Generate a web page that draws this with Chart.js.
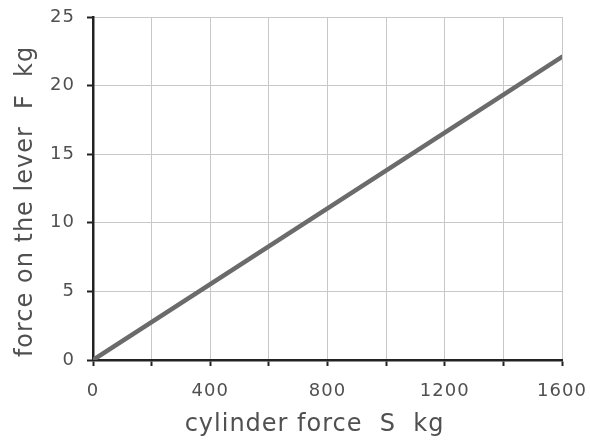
<!DOCTYPE html>
<html>
<head>
<meta charset="utf-8">
<script src="https://cdn.jsdelivr.net/npm/chart.js@4.4.1/dist/chart.umd.min.js"></script>
<style>
  html, body { margin: 0; padding: 0; background: #fff; }
  #wrap { width: 590px; height: 443px; }
</style>
</head>
<body>
<div id="wrap"><canvas id="chart" width="590" height="443"></canvas></div>
<script>
// cylinder force S (kg) vs force on the lever F (kg)
const cylinderForce = [0, 1600];
const leverForce = [0, 22.1];
const xLabels = [0, 400, 800, 1200, 1600];
const yLabels = [0, 5, 10, 15, 20, 25];

const points = cylinderForce.map((s, i) => ({ x: s, y: leverForce[i] }));

const ctx = document.getElementById('chart').getContext('2d');

// the original lettering is a wide face, so space the letters out a little
const wideText = {
    id: 'wideText',
    beforeLayout: (chart) => { chart.ctx.letterSpacing = '1px'; },
    beforeDraw: (chart) => { chart.ctx.letterSpacing = '1px'; }
};

new Chart(ctx, {
    type: 'scatter',
    data: {
        datasets: [{
            data: points,
            showLine: true,
            borderColor: '#6b6b6b',
            borderWidth: 4.5,
            borderCapStyle: 'round',
            pointRadius: 0,
            pointHoverRadius: 0
        }]
    },
    plugins: [wideText],
    options: {
        responsive: false,
        animation: false,
        layout: { padding: { top: 17, right: 28, left: 0, bottom: 0 } },
        plugins: {
            legend: { display: false },
            tooltip: { enabled: false }
        },
        scales: {
            x: {
                type: 'linear',
                min: 0,
                max: 1600,
                afterFit: (scale) => {
                    scale.height = 83;
                    scale.paddingLeft = 0;
                    scale.paddingRight = 0;
                },
                ticks: {
                    stepSize: 200,
                    color: '#505050',
                    font: { family: 'DejaVu Sans', size: 18 },
                    padding: 15,
                    maxRotation: 0,
                    autoSkip: false,
                    callback: (v) => xLabels.includes(v) ? String(v) : ''
                },
                grid: {
                    color: '#c8c8c8',
                    lineWidth: 1,
                    tickLength: 6,
                    tickColor: '#222',
                    tickWidth: 2
                },
                border: { color: '#222', width: 2.5 },
                title: {
                    display: true,
                    text: 'cylinder force  S  kg   ',
                    color: '#505050',
                    font: { family: 'DejaVu Sans', size: 24 },
                    padding: { top: 0, bottom: 4 }
                }
            },
            y: {
                type: 'linear',
                min: 0,
                max: 25,
                afterFit: (scale) => {
                    scale.width = 93;
                    scale.paddingTop = 0;
                    scale.paddingBottom = 0;
                },
                ticks: {
                    stepSize: 5,
                    color: '#505050',
                    font: { family: 'DejaVu Sans', size: 18 },
                    padding: 12,
                    callback: (v) => yLabels.includes(v) ? String(v) : ''
                },
                grid: {
                    color: '#c8c8c8',
                    lineWidth: 1,
                    tickLength: 6,
                    tickColor: '#222',
                    tickWidth: 2
                },
                border: { color: '#222', width: 2.5 },
                title: {
                    display: true,
                    text: 'force on the lever  F  kg   ',
                    color: '#505050',
                    font: { family: 'DejaVu Sans', size: 24 },
                    padding: { top: 11, bottom: 0 }
                }
            }
        }
    }
});
</script>
</body>
</html>
